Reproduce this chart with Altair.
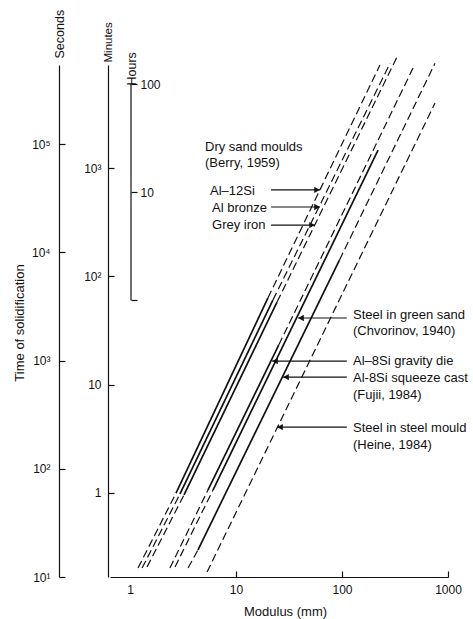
import altair as alt
import pandas as pd

# ---------------- data ----------------
# Each line: modulus (mm) and time (s) at its break points, style of each segment
al12si_M = [1.19, 2.72, 20.0, 228]
al12si_t = [12.1, 59.7, 3790, 5.4e5]
al12si_style = ["dashed", "solid", "dashed"]

albronze_M = [1.30, 2.96, 22.3, 284]
albronze_t = [12.1, 58.5, 3630, 5.6e5]
albronze_style = ["dashed", "solid", "dashed"]

greyiron_M = [1.45, 3.23, 24.4, 330]
greyiron_t = [12.4, 57.3, 3480, 6.4e5]
greyiron_style = ["dashed", "solid", "dashed"]

gravity_M = [2.38, 5.44, 25.3, 468]
gravity_t = [12.1, 63.7, 1393, 5.06e5]
gravity_style = ["dashed", "solid", "dashed"]

greensand_M = [2.66, 6.07, 219]
greensand_t = [12.4, 63.7, 8.83e4]
greensand_style = ["dashed", "solid"]

squeeze_M = [3.53, 4.38, 94.7, 754]
squeeze_t = [12.1, 17.8, 8510, 5.6e5]
squeeze_style = ["dashed", "solid", "dashed"]

steelmould_M = [5.33, 754]
steelmould_t = [11.1, 2.4e5]
steelmould_style = ["dashed"]

# annotation labels (left edge position in data units)
label_text = ["Dry sand moulds", "(Berry, 1959)", "Al\u201312Si", "Al bronze", "Grey iron",
              "Steel in green sand", "(Chvorinov, 1940)", "Al\u20138Si gravity die",
              "Al-8Si squeeze cast", "(Fujii, 1984)", "Steel in steel mould", "(Heine, 1984)"]
label_M = [5.10, 5.10, 5.68, 5.94, 5.94, 127, 127, 127, 127, 127, 127, 127]
label_t = [9.42e4, 6.70e4, 3.69e4, 2.57e4, 1.79e4, 2637, 1880, 991, 690, 481, 238, 166]

# arrows: start, tip, level, direction
arrow_from_M = [21.4, 21.4, 21.4, 111, 111, 111, 111]
arrow_to_M = [62.0, 62.0, 55.6, 38.5, 21.9, 27.8, 24.4]
arrow_t = [3.78e4, 2.63e4, 1.79e4, 2477, 991, 705, 243]
arrow_dir = ["right", "right", "right", "left", "left", "left", "left"]

# axis ticks
sec_ticks = [10, 100, 1e3, 1e4, 1e5]
min_ticks = [1, 10, 100, 1000]
hour_ticks = [1, 10, 100]
mod_ticks = [1, 10, 100, 1000]
hours_span = [1, 100]

# ---------------- build tables ----------------
lines = [
    ("Al-12Si", al12si_M, al12si_t, al12si_style),
    ("Al bronze", albronze_M, albronze_t, albronze_style),
    ("Grey iron", greyiron_M, greyiron_t, greyiron_style),
    ("Al-8Si gravity die", gravity_M, gravity_t, gravity_style),
    ("Steel in green sand", greensand_M, greensand_t, greensand_style),
    ("Al-8Si squeeze cast", squeeze_M, squeeze_t, squeeze_style),
    ("Steel in steel mould", steelmould_M, steelmould_t, steelmould_style),
]
rows = []
for name, Ms, ts, styles in lines:
    for i, st in enumerate(styles):
        seg = f"{name}-{i}"
        rows.append({"seg": seg, "style": st, "M": Ms[i], "t": ts[i], "o": 0})
        rows.append({"seg": seg, "style": st, "M": Ms[i + 1], "t": ts[i + 1], "o": 1})
seg_df = pd.DataFrame(rows)

lab_df = pd.DataFrame({"text": label_text, "M": label_M, "t": label_t})
arr_df = pd.DataFrame({"M": arrow_from_M, "M2": arrow_to_M, "t": arrow_t, "dir": arrow_dir})
head_df = pd.DataFrame({"M": arrow_to_M, "t": arrow_t, "dir": arrow_dir})

W, H = 338, 512
FONT = "Liberation Sans"
INK = "#111111"

xscale = alt.Scale(type="log", domain=[0.6477, 1000], nice=False)
sec_scale = alt.Scale(type="log", domain=[10, 5.4e5], nice=False)
min_scale = alt.Scale(type="log", domain=[10 / 60, 5.4e5 / 60], nice=False)
hour_scale = alt.Scale(type="log", domain=[10 / 3600, 5.4e5 / 3600], nice=False)

x_axis = alt.Axis(
    orient="top", offset=-H, values=mod_ticks, format="d", grid=False,
    tickSize=6, labelPadding=-13, labelBaseline="top", labelFlush=False, labelOverlap=False,
    tickOpacity={"condition": {"test": "datum.value < 5", "value": 0}, "value": 1},
    title="Modulus (mm)", titleX=175, titleY=34, titleBaseline="middle", titleAlign="center",
)

sec_axis = alt.Axis(
    orient="right", offset=-(W + 51), values=sec_ticks, grid=False, tickSize=6,
    labelAlign="right", labelPadding=-15, labelOverlap=False, labelFlush=False,
    labelExpr="'10' + ['\u2070','\u00b9','\u00b2','\u00b3','\u2074','\u2075','\u2076'][round(log(datum.value)/LN10)]",
    title="Seconds", titleAngle=270, titleX=0, titleY=-7, titleAlign="left", titleBaseline="middle",
    titleFontSize=12.5,
)

min_axis = alt.Axis(
    orient="right", offset=-(W + 2), values=min_ticks, grid=False, tickSize=6,
    labelAlign="right", labelPadding=-13, labelOverlap=False, labelFlush=False,
    labelExpr="datum.value < 5 ? '1' : datum.value < 50 ? '10' : datum.value < 500 ? '10\u00b2' : '10\u00b3'",
    title="Minutes", titleAngle=270, titleX=0, titleY=-3, titleAlign="left", titleBaseline="middle",
    titleFontSize=11.5,
)

hour_axis = alt.Axis(
    orient="right", offset=-(W - 21), values=hour_ticks, grid=False, tickSize=6, domain=False,
    labelAlign="left", labelPadding=3, labelOverlap=False, labelFlush=False,
    labelExpr="datum.value < 5 ? '' : datum.value < 50 ? '10' : '100'",
    title="Hours", titleAngle=270, titleX=0, titleY=20, titleAlign="left", titleBaseline="middle",
    titleFontSize=12.5,
)

base_lines = alt.Chart(seg_df).mark_line(color=INK).encode(
    x=alt.X("M:Q", scale=xscale, axis=x_axis),
    y=alt.Y("t:Q", scale=sec_scale, axis=sec_axis),
    detail="seg:N",
    order="o:Q",
    strokeDash=alt.StrokeDash("style:N", scale=alt.Scale(domain=["solid", "dashed"], range=[[1, 0], [8, 4]]), legend=None),
    strokeWidth=alt.StrokeWidth("style:N", scale=alt.Scale(domain=["solid", "dashed"], range=[1.7, 1.2]), legend=None),
)

labels = alt.Chart(lab_df).mark_text(align="left", baseline="middle", font=FONT, fontSize=13, color=INK).encode(
    x=alt.X("M:Q", scale=xscale), y=alt.Y("t:Q", scale=sec_scale), text="text:N"
)

arrows = alt.Chart(arr_df).mark_rule(color=INK, strokeWidth=1.2).encode(
    x=alt.X("M:Q", scale=xscale), x2="M2:Q", y=alt.Y("t:Q", scale=sec_scale)
)

heads_r = alt.Chart(head_df).transform_filter("datum.dir == 'right'").mark_point(
    shape="triangle-right", filled=True, color=INK, size=40, opacity=1, xOffset=-3
).encode(x=alt.X("M:Q", scale=xscale), y=alt.Y("t:Q", scale=sec_scale))

heads_l = alt.Chart(head_df).transform_filter("datum.dir == 'left'").mark_point(
    shape="triangle-left", filled=True, color=INK, size=40, opacity=1, xOffset=3
).encode(x=alt.X("M:Q", scale=xscale), y=alt.Y("t:Q", scale=sec_scale))

main = alt.layer(base_lines, arrows, heads_r, heads_l, labels)

minutes = alt.Chart(pd.DataFrame({"minutes": min_ticks})).mark_point(opacity=0).encode(
    y=alt.Y("minutes:Q", scale=min_scale, axis=min_axis)
)

hours = alt.Chart(pd.DataFrame({"h0": [hours_span[0]], "h1": [hours_span[1]]})).mark_rule(
    color=INK, strokeWidth=1.2
).encode(
    x=alt.value(21),
    y=alt.Y("h0:Q", scale=hour_scale, axis=hour_axis),
    y2="h1:Q",
)

ytitle = alt.Chart(pd.DataFrame({"label": ["Time of solidification"]})).mark_text(
    angle=270, font=FONT, fontSize=13, color=INK, align="center", baseline="middle"
).encode(text="label:N", x=alt.value(-90), y=alt.value(258))

chart = alt.layer(main, minutes, hours, ytitle).resolve_scale(y="independent").properties(
    width=W, height=H,
    autosize=alt.AutoSizeParams(type="none"),
    padding={"left": 110, "top": 65, "right": 25, "bottom": 42},
).configure_view(stroke=None).configure_axis(
    labelFont=FONT, labelFontSize=12, labelColor=INK,
    titleFont=FONT, titleFontSize=13, titleFontWeight="normal", titleColor=INK,
    domainColor=INK, tickColor=INK, domainWidth=1.2, tickWidth=1.2,
)

chart.save("out.html", embed_options={"renderer": "svg", "actions": False})
